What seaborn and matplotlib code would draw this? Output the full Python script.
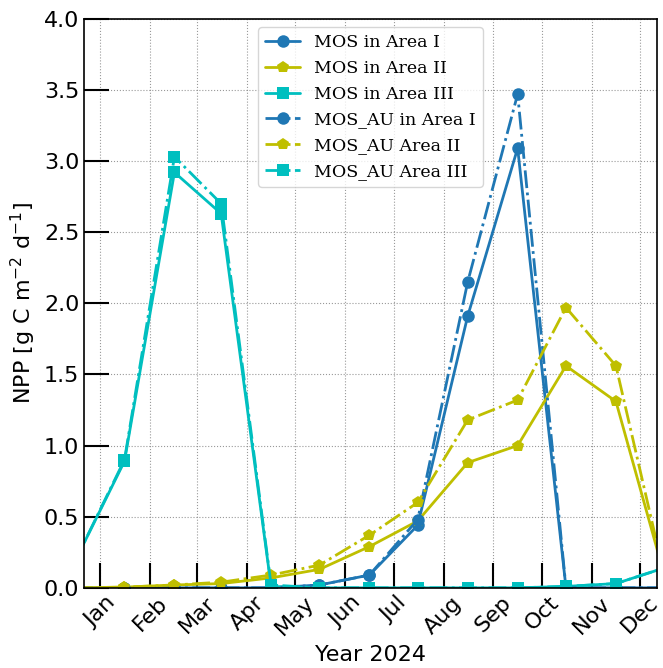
import matplotlib
matplotlib.use("Agg")
import matplotlib.pyplot as plt
import matplotlib.dates as mdates
import pandas as pd
import seaborn as sns

# mid-month sample dates, Dec 2023 .. Dec 2024
dates = pd.date_range("2023-12-01", "2024-12-01", freq="MS") + pd.Timedelta(days=15)

mos_area1 = [0.0, 0.0, 0.0, 0.0, 0.0, 0.02, 0.09, 0.44, 1.91, 3.09, 0.0, 0.0, 0.0]
mos_area2 = [0.0, 0.005, 0.02, 0.03, 0.07, 0.13, 0.29, 0.47, 0.88, 1.00, 1.56, 1.31, 0.09]
mos_area3 = [0.18, 0.89, 2.92, 2.63, 0.01, 0.0, 0.0, 0.0, 0.0, 0.0, 0.01, 0.03, 0.14]
au_area1 = [0.0, 0.0, 0.0, 0.0, 0.0, 0.02, 0.09, 0.48, 2.15, 3.47, 0.0, 0.0, 0.0]
au_area2 = [0.0, 0.005, 0.02, 0.04, 0.09, 0.16, 0.37, 0.60, 1.18, 1.32, 1.97, 1.56, 0.09]
au_area3 = [0.18, 0.90, 3.03, 2.70, 0.02, 0.0, 0.0, 0.0, 0.0, 0.0, 0.01, 0.03, 0.14]

series = [
    ("MOS in Area I", mos_area1, "#1f77b4", "o", "-"),
    ("MOS in Area II", mos_area2, "y", "p", "-"),
    ("MOS in Area III", mos_area3, "c", "s", "-"),
    ("MOS_AU in Area I", au_area1, "#1f77b4", "o", "-."),
    ("MOS_AU Area II", au_area2, "y", "p", "-."),
    ("MOS_AU Area III", au_area3, "c", "s", "-."),
]

sns.set_style("ticks")
plt.rcParams.update({"text.color": "black", "axes.labelcolor": "black",
                     "xtick.color": "black", "ytick.color": "black"})
fig = plt.figure(figsize=(6.63, 6.68), dpi=100)
ax = fig.add_axes([0.127, 0.12, 0.864, 0.852])

for label, vals, color, marker, ls in series:
    sns.lineplot(x=dates, y=vals, ax=ax, color=color, marker=marker, linestyle=ls,
                 linewidth=2, markersize=9, markeredgewidth=0, label=label)

ax.set_xlim(pd.Timestamp("2023-12-22"), pd.Timestamp("2024-12-11 12:00"))
ax.set_ylim(0, 4.0)
ax.set_yticks([0, 0.5, 1.0, 1.5, 2.0, 2.5, 3.0, 3.5, 4.0])
ax.yaxis.set_major_formatter(matplotlib.ticker.FormatStrFormatter("%.1f"))
ax.xaxis.set_major_locator(mdates.MonthLocator())
ax.xaxis.set_major_formatter(mdates.DateFormatter("%b"))

ax.tick_params(direction="in", length=18, width=1.5, labelsize=16, color="black")
plt.setp(ax.get_xticklabels(), rotation=45)
ax.grid(True, color="gray", linestyle=":", linewidth=0.8, alpha=0.8)
for sp in ax.spines.values():
    sp.set_color("black")
    sp.set_linewidth(1.2)

ax.set_xlabel("Year 2024", fontsize=16)
ax.set_ylabel("NPP [g C m$^{-2}$ d$^{-1}$]", fontsize=16)
ax.legend(loc="upper center", prop={"family": "DejaVu Serif", "size": 12.5})

fig.savefig("out.png", dpi=100)
